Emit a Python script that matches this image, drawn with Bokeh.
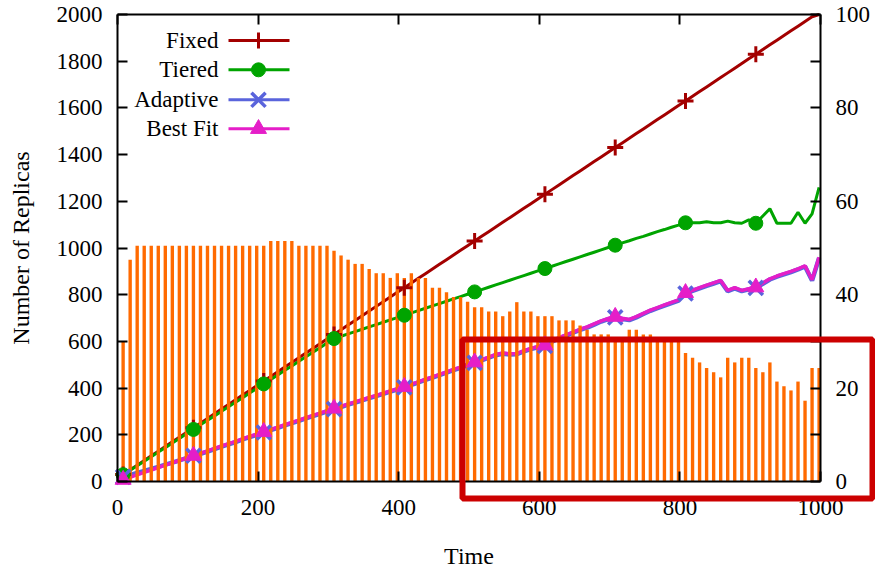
from bokeh.plotting import figure
from bokeh.models import Range1d, LinearAxis, FixedTicker, BoxAnnotation
from bokeh.core.properties import value
from bokeh.embed import file_html
from bokeh.resources import INLINE

# ---------------- data ----------------
time = list(range(8, 1000, 10))  # sample times (100 samples)

fixed = [30, 50, 70, 90, 110, 130, 150, 170, 190, 210,
         230, 250, 270, 290, 310, 330, 350, 370, 390, 410,
         430, 450, 470, 490, 510, 530, 550, 570, 590, 610,
         630, 650, 670, 690, 710, 730, 750, 770, 790, 810,
         830, 850, 870, 890, 910, 930, 950, 970, 990, 1010,
         1030, 1050, 1070, 1090, 1110, 1130, 1150, 1170, 1190, 1210,
         1230, 1250, 1270, 1290, 1310, 1330, 1350, 1370, 1390, 1410,
         1430, 1450, 1470, 1490, 1510, 1530, 1550, 1570, 1590, 1610,
         1630, 1650, 1670, 1690, 1710, 1730, 1750, 1770, 1790, 1810,
         1830, 1850, 1870, 1890, 1910, 1930, 1950, 1970, 1990, 2000]

tiered = [29, 48, 67, 87, 106, 126, 145, 165, 184, 204,
          223, 243, 262, 281, 301, 320, 340, 359, 379, 398,
          418, 437, 456, 476, 495, 515, 534, 554, 573, 593,
          612, 622, 632, 642, 652, 662, 672, 682, 692, 702,
          712, 722, 732, 742, 752, 762, 772, 782, 792, 802,
          812, 822, 832, 842, 852, 862, 872, 882, 892, 902,
          912, 922, 932, 942, 952, 962, 972, 982, 992, 1002,
          1012, 1022, 1031, 1041, 1050, 1060, 1070, 1079, 1089, 1098,
          1108, 1108, 1108, 1112, 1108, 1108, 1115, 1108, 1106, 1120,
          1106, 1137, 1168, 1106, 1106, 1106, 1153, 1106, 1146, 1260]

adaptive = [20, 28, 37, 45, 54, 63, 72, 81, 90, 100,
            110, 118, 128, 139, 149, 159, 169, 180, 190, 200,
            210, 220, 230, 240, 250, 260, 270, 280, 290, 300,
            310, 319, 329, 338, 347, 357, 366, 375, 385, 394,
            403, 414, 424, 435, 445, 456, 466, 477, 487, 498,
            508, 519, 530, 541, 547, 544, 545, 557, 567, 575,
            581, 599, 613, 625, 637, 649, 659, 672, 685, 695,
            703, 696, 691, 703, 717, 731, 742, 753, 764, 775,
            805, 816, 827, 838, 848, 858, 815, 827, 815, 823,
            829, 847, 865, 877, 887, 897, 908, 921, 861, 957]

best_fit = [8, 18, 29, 39, 49, 60, 70, 80, 90, 101,
            111, 121, 131, 142, 152, 162, 172, 183, 193, 203,
            213, 223, 233, 243, 253, 263, 273, 283, 293, 303,
            313, 322, 332, 341, 350, 360, 369, 378, 388, 397,
            406, 417, 427, 438, 448, 459, 469, 480, 490, 501,
            511, 522, 533, 544, 550, 547, 548, 560, 570, 578,
            584, 602, 616, 628, 640, 652, 662, 675, 688, 698,
            706, 699, 694, 706, 720, 734, 745, 756, 767, 778,
            808, 819, 830, 841, 851, 861, 818, 830, 818, 826,
            832, 850, 868, 880, 890, 900, 911, 924, 864, 960]

# bars on the right axis (0-100)
bars = [30, 47.5, 50.5, 50.5, 50.5, 50.5, 50.5, 50.5, 50.5, 50.5,
        50.5, 50.5, 50.5, 50.5, 50.5, 50.5, 50.5, 50.5, 50.5, 50.5,
        50.5, 51.5, 51.5, 51.5, 51.5, 50.5, 50.5, 50.5, 50.5, 50.5,
        49.4, 48.4, 47.5, 46.6, 46.6, 45.5, 44.6, 44.6, 43.6, 44.6,
        43.6, 44.6, 43.6, 43.6, 41.5, 41.5, 40.5, 39.5, 39.5, 38.5,
        37.3, 37.3, 36.4, 36.4, 35.4, 36.4, 38.4, 36.4, 36.4, 35.4,
        35.4, 35.4, 34.5, 34.5, 34.5, 33.4, 32.5, 31.5, 31.5, 31.5,
        30.5, 30.5, 32.5, 32.5, 31.5, 31.5, 30.5, 30.5, 30.5, 30.5,
        27.5, 26.5, 25.5, 24.3, 23.4, 22.3, 26.5, 25.5, 26.5, 26.5,
        24.3, 23.4, 25.5, 21.4, 20.4, 19.5, 21.4, 17.3, 24.3, 24.3]

x_ticks = [0, 200, 400, 600, 800, 1000]
y_ticks = [0, 200, 400, 600, 800, 1000, 1200, 1400, 1600, 1800, 2000]
y2_ticks = [0, 20, 40, 60, 80, 100]
y2_minor = [10, 30, 50, 70, 90]

series_names = ["Fixed", "Tiered", "Adaptive", "Best Fit"]

# ---------------- layout (canvas pixels) ----------------
W, H = 875, 569
FL, FR, FT, FB = 117, 820, 14, 481          # data box on the canvas
X0, X1, Y0, Y1, Y20, Y21 = 0, 1000, 0, 2000, 0, 100
sx = (FR - FL) / (X1 - X0)
sy = (FB - FT) / (Y1 - Y0)
k2 = (Y21 - Y20) / (Y1 - Y0)


def dx(px):
    return X0 + (px - FL) / sx


def dy(py):
    return Y0 + (FB - py) / sy


FONT = "Liberation Serif"
FS = "23px"
FS_TITLE = "24px"
C_FIXED = "#a30000"
C_TIER = "#00a400"
C_ADAPT = "#5a64dc"
C_BEST = "#e51ec8"
C_BAR = "#ff6a00"
C_BOX = "#cc0000"

p = figure(width=W, height=H,
           x_range=Range1d(dx(0), dx(W)), y_range=Range1d(dy(H), dy(0)),
           x_axis_location=None, y_axis_location=None,
           output_backend="svg", toolbar_location=None, min_border=0)
p.extra_y_ranges = {"y2": Range1d(dy(H) * k2, dy(0) * k2)}
p.grid.visible = False
p.outline_line_color = None
p.background_fill_color = "white"
p.border_fill_color = "white"


def style(ax, standoff):
    ax.axis_line_width = 2
    ax.axis_line_color = "black"
    ax.major_tick_in = 10
    ax.major_tick_out = 0
    ax.major_tick_line_width = 2
    ax.major_tick_line_color = "black"
    ax.minor_tick_in = 10
    ax.minor_tick_out = 0
    ax.minor_tick_line_width = 2
    ax.minor_tick_line_color = "black"
    ax.major_label_text_font = FONT
    ax.major_label_text_font_size = FS
    ax.major_label_text_color = "black"
    ax.major_label_standoff = standoff
    ax.axis_label_text_font = FONT
    ax.axis_label_text_font_size = FS_TITLE
    ax.axis_label_text_font_style = "normal"
    ax.axis_label_text_color = "black"


xa = LinearAxis(ticker=FixedTicker(ticks=x_ticks), fixed_location=Y0, bounds=(X0, X1))
style(xa, 18)
xa.axis_label = "Time"
xa.axis_label_standoff = 25
p.add_layout(xa, "below")

ya = LinearAxis(ticker=FixedTicker(ticks=y_ticks), fixed_location=X0, bounds=(Y0, Y1))
style(ya, 15)
ya.axis_label = "Number of Replicas"
ya.axis_label_standoff = 20
p.add_layout(ya, "left")

ra = LinearAxis(y_range_name="y2", ticker=FixedTicker(ticks=y2_ticks, minor_ticks=y2_minor),
                fixed_location=X1, bounds=(Y20, Y21))
style(ra, 15)
p.add_layout(ra, "right")

ta = LinearAxis(ticker=FixedTicker(ticks=[], minor_ticks=x_ticks), fixed_location=Y1,
                bounds=(X0, X1))
style(ta, 0)
p.add_layout(ta, "above")

# ---------------- lines (below bars) ----------------
p.line(time, fixed, line_color=C_FIXED, line_width=3)
p.line(time, tiered, line_color=C_TIER, line_width=3)
p.line(time, adaptive, line_color=C_ADAPT, line_width=4.5)
p.line(time, best_fit, line_color=C_BEST, line_width=3.5)

# ---------------- bars ----------------
p.vbar(x=time, top=bars, bottom=0, width=4.8, y_range_name="y2",
       fill_color=C_BAR, line_color=None)

# ---------------- markers (every 10th sample) ----------------
mt = time[::10]


def markers(xs, ys):
    p.scatter(xs, ys[0], marker="cross", size=16, line_color=C_FIXED, line_width=3)
    p.scatter(xs, ys[1], marker="circle", size=14, fill_color=C_TIER, line_color=C_TIER)
    p.scatter(xs, ys[2], marker="x", size=20, line_color=C_ADAPT, line_width=3.5)
    p.scatter(xs, ys[3], marker="triangle", size=16, fill_color=C_BEST, line_color=C_BEST)


markers(mt, [fixed[::10], tiered[::10], adaptive[::10], best_fit[::10]])

# ---------------- legend (text left, sample right) ----------------
colors = [C_FIXED, C_TIER, C_ADAPT, C_BEST]
leg_y = [dy(40), dy(69.3), dy(99.3), dy(128.3)]
leg_text_x = dx(218)
leg_x0, leg_x1, leg_xm = dx(228), dx(289), dx(258)
p.text(x=[leg_text_x] * 4, y=leg_y, text=series_names, text_align="right",
       text_baseline="middle", text_font=value(FONT), text_font_size=FS, text_color="black")
p.segment(x0=[leg_x0] * 4, y0=leg_y, x1=[leg_x1] * 4, y1=leg_y, line_color=colors, line_width=3)
markers([leg_xm], [[leg_y[0]], [leg_y[1]], [leg_y[2]], [leg_y[3]]])

# ---------------- highlight box ----------------
box = BoxAnnotation(left=dx(462), right=dx(872), top=dy(339), bottom=dy(498),
                    fill_color=None, line_color=C_BOX, line_width=6, line_alpha=1.0)
p.add_layout(box)

open("out.html", "w").write(file_html(p, INLINE))
